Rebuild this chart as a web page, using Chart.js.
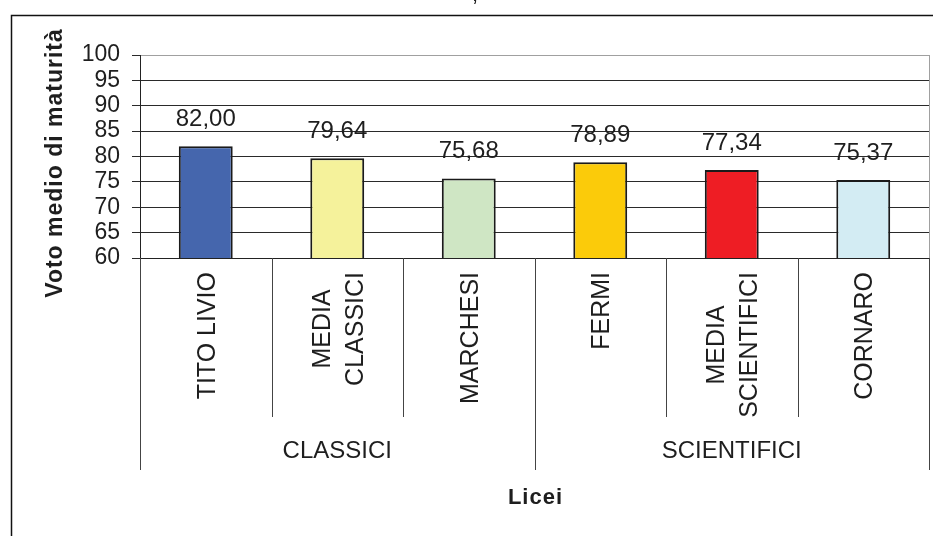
<!DOCTYPE html>
<html>
<head>
<meta charset="utf-8">
<script src="https://cdn.jsdelivr.net/npm/chart.js@4.4.1/dist/chart.umd.min.js"></script>
<style>
  html, body { margin: 0; padding: 0; background: #fff; }
  canvas { display: block; }
</style>
</head>
<body>
<canvas id="chart" width="933" height="536"></canvas>
<script>
// Voto medio di maturità per liceo
const schools = ['TITO LIVIO', ['MEDIA', 'CLASSICI'], 'MARCHESI', 'FERMI', ['MEDIA', 'SCIENTIFICI'], 'CORNARO'];
const grades = [82.00, 79.64, 75.68, 78.89, 77.34, 75.37];
const barColors = ['#4566ad', '#f5f29b', '#cfe6c4', '#fbcb0a', '#ee1d24', '#d3ecf3'];
const groupLabels = ['CLASSICI', 'SCIENTIFICI'];
const groupSizes = [3, 3];
const yTicks = [60, 65, 70, 75, 80, 85, 90, 95, 100];

const FONT = "'Liberation Sans', Arial, sans-serif";
const INK = '#1e1e1e';

function fmt(v) {
    return v.toFixed(2).replace('.', ',');
}

// frame, category labels, groups, titles and value labels
const decorPlugin = {
    id: 'decor',
    afterDraw(chart) {
        const ctx = chart.ctx;
        const area = chart.chartArea;
        const x = chart.scales.x;
        const y = chart.scales.y;
        const half = (x.getPixelForValue(1) - x.getPixelForValue(0)) / 2;

        ctx.save();

        // outer box
        ctx.strokeStyle = '#111';
        ctx.lineWidth = 1.5;
        ctx.strokeRect(11.5, 15.5, 1000, 1000);

        // stray comma from the heading above
        ctx.fillStyle = INK;
        ctx.font = '22px ' + FONT;
        ctx.textAlign = 'center';
        ctx.fillText(',', 475, 1);

        // right edge of the plot area
        ctx.strokeStyle = '#a0a0a0';
        ctx.lineWidth = 1;
        ctx.beginPath();
        ctx.moveTo(area.right + 0.5, area.top);
        ctx.lineTo(area.right + 0.5, area.bottom);
        ctx.stroke();

        // category dividers below the axis
        ctx.strokeStyle = '#444';
        const groupEdges = [0];
        groupSizes.reduce((acc, n) => { groupEdges.push(acc + n); return acc + n; }, 0);
        for (let i = 0; i <= schools.length; i++) {
            const px = Math.round(x.getPixelForValue(i) - half) + 0.5;
            const long = groupEdges.includes(i);
            ctx.beginPath();
            ctx.moveTo(px, area.bottom);
            ctx.lineTo(px, area.bottom + (long ? 212 : 159));
            ctx.stroke();
        }

        // rotated category labels
        ctx.fillStyle = INK;
        ctx.font = '25px ' + FONT;
        const lineGap = 33;
        schools.forEach((lab, i) => {
            const lines = Array.isArray(lab) ? lab : [lab];
            const cx = x.getPixelForValue(i);
            const maxW = Math.max(...lines.map(l => ctx.measureText(l).width));
            lines.forEach((line, j) => {
                const off = (j - (lines.length - 1) / 2) * lineGap;
                ctx.save();
                ctx.translate(cx + off + 9, area.bottom + 14 + maxW / 2);
                ctx.rotate(-Math.PI / 2);
                ctx.textAlign = 'center';
                ctx.textBaseline = 'alphabetic';
                ctx.fillText(line, 0, 0);
                ctx.restore();
            });
        });

        // group labels
        ctx.font = '24px ' + FONT;
        ctx.textAlign = 'center';
        ctx.textBaseline = 'alphabetic';
        let start = 0;
        groupLabels.forEach((g, k) => {
            const end = start + groupSizes[k] - 1;
            const gx = (x.getPixelForValue(start) + x.getPixelForValue(end)) / 2;
            ctx.fillText(g, gx, 458);
            start = end + 1;
        });

        // axis titles
        ctx.font = 'bold 22px ' + FONT;
        ctx.letterSpacing = '1px';
        ctx.fillText('Licei', (area.left + area.right) / 2 + 1, 504);

        ctx.save();
        ctx.font = 'bold 23px ' + FONT;
        ctx.letterSpacing = '1px';
        ctx.translate(62, 163);
        ctx.rotate(-Math.PI / 2);
        ctx.fillText('Voto medio di maturità', 0, 0);
        ctx.restore();
        ctx.letterSpacing = '0px';

        // value labels above the bars
        ctx.font = '24px ' + FONT;
        const meta = chart.getDatasetMeta(0);
        meta.data.forEach((bar, i) => {
            ctx.fillText(fmt(grades[i]), bar.x, y.getPixelForValue(grades[i]) - 20);
        });

        ctx.restore();
    }
};

new Chart(document.getElementById('chart'), {
    type: 'bar',
    data: {
        labels: schools,
        datasets: [{
            data: grades,
            backgroundColor: barColors,
            borderColor: '#1a1a1a',
            borderWidth: 2,
            barPercentage: 0.41,
            categoryPercentage: 1
        }]
    },
    options: {
        responsive: false,
        animation: false,
        devicePixelRatio: 1,
        layout: {
            padding: { left: 0, top: 55, right: 4, bottom: 0 }
        },
        plugins: {
            legend: { display: false },
            tooltip: { enabled: false }
        },
        scales: {
            x: {
                grid: { display: false },
                border: { display: true, color: '#222', width: 1 },
                ticks: { display: false },
                afterFit(scale) { scale.height = 278; }
            },
            y: {
                min: 60,
                max: 100,
                afterBuildTicks(scale) {
                    scale.ticks = yTicks.map(v => ({ value: v }));
                },
                grid: {
                    color: c => (c.tick && c.tick.value === 100 ? '#a0a0a0' : '#2a2a2a'),
                    tickColor: '#2a2a2a',
                    tickLength: 8
                },
                border: { color: '#222', width: 1 },
                ticks: {
                    autoSkip: false,
                    padding: 12,
                    color: INK,
                    font: { family: FONT, size: 23 }
                },
                afterFit(scale) { scale.width = 140; }
            }
        }
    },
    plugins: [decorPlugin]
});
</script>
</body>
</html>
